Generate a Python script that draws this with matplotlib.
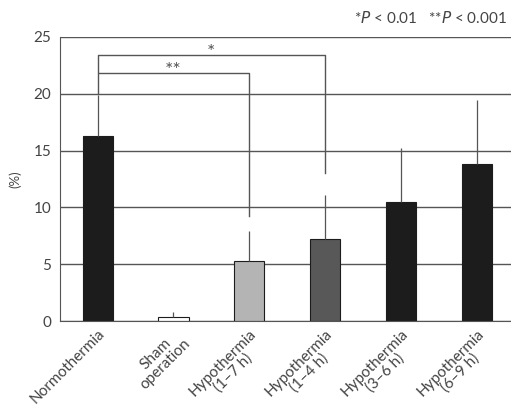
import matplotlib.pyplot as plt
import matplotlib.transforms as mtransforms
import numpy as np

plt.rcParams['font.family'] = ['Lato', 'DejaVu Sans']

groups = ['Normothermia', 'Sham\noperation', 'Hypothermia\n(1–7 h)',
          'Hypothermia\n(1–4 h)', 'Hypothermia\n(3–6 h)', 'Hypothermia\n(6–9 h)']
means = [16.3, 0.4, 5.3, 7.2, 10.5, 13.8]
upper_err = [3.6, 0.4, 2.6, 3.9, 4.7, 5.6]
colors = ['#1c1c1c', '#ffffff', '#b4b4b4', '#585858', '#1c1c1c', '#1c1c1c']

# significance brackets: (left group, right group, height, right leg bottom, label)
brackets = [(0, 2, 21.8, 9.2, '**'), (0, 3, 23.4, 13.0, '*')]
bracket_left_bottom = [20.1, 21.9]

x = np.arange(len(groups))
ink = '#444444'

fig = plt.figure(figsize=(5.11, 4.09), dpi=100)
ax = fig.add_axes([0.117, 0.215, 0.89, 0.695])

ax.set_axisbelow(True)
ax.yaxis.grid(True, color='#555555', linewidth=1.0)
ax.bar(x, means, width=0.4, color=colors, edgecolor='#1c1c1c', linewidth=0.8,
       yerr=[np.zeros(len(means)), upper_err], error_kw=dict(ecolor='#555555', elinewidth=0.9, capsize=0))

for (a, b, h, rb, lab), lb in zip(brackets, bracket_left_bottom):
    ax.plot([a, a, b, b], [lb, h, h, rb], color='#555555', linewidth=1.0)
    ax.text((a + b) / 2, h - 0.55, lab, ha='center', va='bottom', fontsize=14, color='#555555')

ax.set_xlim(-0.5, 5.5)
ax.set_ylim(0, 25)
ax.set_yticks([0, 5, 10, 15, 20, 25])
ax.set_xticks(x)
ax.set_xticklabels(groups, rotation=45, ha='right', rotation_mode='anchor',
                   multialignment='center', fontsize=11, color=ink, linespacing=1.0)
shift = mtransforms.ScaledTranslation(0.12, 0.03, fig.dpi_scale_trans)
for lbl in ax.get_xticklabels():
    lbl.set_transform(lbl.get_transform() + shift)
ax.tick_params(axis='x', length=0, pad=4)
ax.tick_params(axis='y', length=0, labelsize=11, colors=ink, pad=6)
ax.set_ylabel('(%)', fontsize=9.5, color=ink, labelpad=9)
for s in ['top', 'right']:
    ax.spines[s].set_visible(False)
ax.spines['left'].set_color('#555555')
ax.spines['bottom'].set_color('#555555')

fig.text(0.992, 0.955, r'*$\it{P}$ < 0.01   **$\it{P}$ < 0.001', ha='right', va='center',
         fontsize=11, color=ink)

plt.savefig('out.png', dpi=100)
